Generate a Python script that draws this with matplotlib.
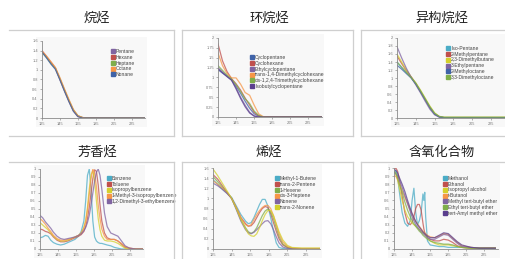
import matplotlib
matplotlib.use('Agg')
import matplotlib.pyplot as plt
from matplotlib.lines import Line2D
from matplotlib.patches import Rectangle

plt.rcParams['font.family'] = ['Liberation Sans', 'DejaVu Sans']

# ---- data ----
x_ticks = [125, 145, 165, 185, 205, 225]

wl_a = [125, 130, 135, 140, 145, 150, 155, 160, 165, 170, 175, 185, 200, 220, 240]

alkane_names = ['Pentane', 'Hexane', 'Heptane', 'Octane', 'Nonane']
pentane = [1.38, 1.26, 1.14, 1.02, 0.81, 0.58, 0.36, 0.16, 0.04, 0.01, 0, 0, 0, 0, 0]
hexane = [1.40, 1.28, 1.16, 1.04, 0.80, 0.57, 0.35, 0.15, 0.03, 0.01, 0, 0, 0, 0, 0]
heptane = [1.36, 1.26, 1.13, 1.03, 0.82, 0.59, 0.37, 0.17, 0.05, 0.01, 0, 0, 0, 0, 0]
octane = [1.39, 1.29, 1.17, 1.05, 0.84, 0.61, 0.39, 0.18, 0.05, 0.01, 0, 0, 0, 0, 0]
nonane = [1.37, 1.25, 1.12, 1.01, 0.79, 0.56, 0.34, 0.14, 0.03, 0.0, 0, 0, 0, 0, 0]
alkane_yticks = [0, 0.2, 0.4, 0.6, 0.8, 1, 1.2, 1.4, 1.6]

cyclo_names = ['Cyclopentane', 'Cyclohexane', 'Ethylcyclopentane',
               'trans-1,4-Dimethylcyclohexane', 'cis-1,2,4-Trimethylcyclohexane',
               'Isobutylcyclopentane']
cyclopentane = [1.20, 1.11, 1.03, 0.94, 0.78, 0.60, 0.40, 0.22, 0.08, 0.02, 0, 0, 0, 0, 0]
cyclohexane = [1.85, 1.42, 1.15, 0.97, 0.84, 0.68, 0.48, 0.30, 0.12, 0.03, 0, 0, 0, 0, 0]
ethylcyclopentane = [1.25, 1.14, 1.04, 0.94, 0.74, 0.50, 0.30, 0.12, 0.03, 0, 0, 0, 0, 0, 0]
dmch = [1.62, 1.30, 1.10, 0.99, 0.99, 0.83, 0.62, 0.55, 0.30, 0.08, 0.01, 0, 0, 0, 0]
tmch = [1.30, 1.18, 1.06, 0.96, 0.82, 0.65, 0.46, 0.34, 0.15, 0.04, 0, 0, 0, 0, 0]
isobutylcp = [1.22, 1.12, 1.02, 0.93, 0.71, 0.47, 0.26, 0.10, 0.02, 0, 0, 0, 0, 0, 0]
cyclo_yticks = [0, 0.25, 0.5, 0.75, 1, 1.25, 1.5, 1.75, 2]

iso_names = ['Iso-Pentane', '2-Methylpentane', '2,3-Dimethylbutane',
             '3-Ethylpentane', '2-Methyloctane', '3,3-Dimethyloctane']
isopentane = [1.40, 1.26, 1.13, 1.02, 0.86, 0.67, 0.47, 0.27, 0.11, 0.03, 0.01, 0, 0, 0, 0]
methylpentane = [1.55, 1.36, 1.18, 1.03, 0.86, 0.66, 0.46, 0.26, 0.10, 0.03, 0.01, 0.01, 0.01, 0.01, 0.01]
dimethylbutane = [1.60, 1.40, 1.20, 1.03, 0.88, 0.70, 0.50, 0.30, 0.13, 0.04, 0.02, 0.02, 0.02, 0.02, 0.02]
ethylpentane = [1.78, 1.50, 1.24, 1.02, 0.83, 0.63, 0.42, 0.22, 0.08, 0.02, 0.01, 0.01, 0.01, 0.01, 0.01]
methyloctane = [1.32, 1.22, 1.11, 1.00, 0.85, 0.66, 0.46, 0.26, 0.10, 0.03, 0.01, 0.01, 0.01, 0.01, 0.01]
dimethyloctane = [1.40, 1.27, 1.14, 1.01, 0.87, 0.68, 0.48, 0.28, 0.12, 0.04, 0.02, 0.02, 0.02, 0.02, 0.02]
iso_yticks = [0, 0.2, 0.4, 0.6, 0.8, 1, 1.2, 1.4, 1.6, 1.8, 2]

wl_b = [125, 128, 131, 134, 137, 140, 144, 148, 152, 156, 160, 164, 168, 171, 174, 176, 178,
        180, 182, 184, 186, 188, 190, 192, 194, 197, 200, 204, 208, 212, 216, 220, 225, 232, 240]
arom_names = ['Benzene', 'Toluene', 'Isopropylbenzene',
              '1-Methyl-3-isopropylbenzene', '1,2-Dimethyl-3-ethylbenzene']
benzene = [0.14, 0.15, 0.17, 0.16, 0.11, 0.08, 0.06, 0.05, 0.06, 0.08, 0.10, 0.12, 0.16, 0.22,
           0.35, 0.60, 0.92, 1.00, 0.75, 0.35, 0.15, 0.10, 0.08, 0.07, 0.07, 0.06, 0.05, 0.04,
           0.02, 0.01, 0, 0, 0, 0, 0]
toluene = [0.25, 0.24, 0.22, 0.21, 0.19, 0.15, 0.11, 0.09, 0.09, 0.10, 0.12, 0.14, 0.16, 0.18,
           0.22, 0.28, 0.38, 0.52, 0.70, 0.88, 0.99, 0.97, 0.80, 0.55, 0.35, 0.20, 0.14, 0.12,
           0.12, 0.10, 0.06, 0.02, 0.01, 0, 0]
isopropylbenzene = [0.33, 0.30, 0.27, 0.24, 0.20, 0.16, 0.12, 0.10, 0.10, 0.11, 0.13, 0.15,
                    0.17, 0.20, 0.27, 0.36, 0.52, 0.75, 0.93, 0.98, 0.85, 0.60, 0.38, 0.24,
                    0.16, 0.11, 0.10, 0.10, 0.09, 0.07, 0.04, 0.01, 0, 0, 0]
methylisopropylbenzene = [0.38, 0.35, 0.31, 0.26, 0.22, 0.17, 0.13, 0.11, 0.11, 0.12, 0.13,
                          0.15, 0.17, 0.20, 0.26, 0.34, 0.48, 0.68, 0.88, 1.00, 0.95, 0.78,
                          0.55, 0.38, 0.25, 0.16, 0.12, 0.12, 0.12, 0.10, 0.07, 0.03, 0.01, 0, 0]
dimethylethylbenzene = [0.42, 0.39, 0.34, 0.30, 0.26, 0.21, 0.16, 0.13, 0.12, 0.13, 0.14,
                        0.15, 0.17, 0.19, 0.23, 0.27, 0.33, 0.42, 0.55, 0.70, 0.85, 0.96,
                        1.00, 0.92, 0.75, 0.45, 0.28, 0.20, 0.18, 0.16, 0.10, 0.04, 0.01, 0, 0]
arom_yticks = [0, 0.1, 0.2, 0.3, 0.4, 0.5, 0.6, 0.7, 0.8, 0.9, 1]

wl_c = [125, 130, 135, 140, 145, 150, 155, 160, 163, 166, 169, 172, 175, 178, 181, 184, 187,
        190, 193, 196, 200, 205, 210, 220, 240]
olef_names = ['Methyl-1-Butene', 'trans-2-Pentene', '1-Hexene', 'cis-3-Heptene',
              'Nonene', 'trans-2-Nonene']
methylbutene = [1.37, 1.28, 1.18, 1.10, 1.02, 0.85, 0.68, 0.55, 0.50, 0.52, 0.62, 0.75, 0.88,
                0.98, 0.98, 0.85, 0.62, 0.35, 0.12, 0.03, 0.01, 0, 0, 0, 0]
pentene = [1.47, 1.38, 1.25, 1.12, 1.00, 0.82, 0.62, 0.50, 0.45, 0.46, 0.52, 0.62, 0.72, 0.80,
           0.84, 0.82, 0.70, 0.52, 0.35, 0.20, 0.08, 0.03, 0.01, 0, 0]
hexene = [1.43, 1.33, 1.22, 1.12, 1.00, 0.80, 0.58, 0.42, 0.34, 0.31, 0.34, 0.42, 0.54, 0.66,
          0.75, 0.79, 0.74, 0.60, 0.42, 0.25, 0.10, 0.03, 0.01, 0, 0]
heptene = [1.35, 1.28, 1.20, 1.11, 1.00, 0.82, 0.62, 0.48, 0.45, 0.48, 0.58, 0.68, 0.76, 0.82,
           0.86, 0.86, 0.80, 0.66, 0.48, 0.30, 0.14, 0.05, 0.02, 0.01, 0.01]
nonene = [1.30, 1.25, 1.18, 1.10, 1.00, 0.78, 0.55, 0.38, 0.32, 0.30, 0.33, 0.38, 0.44, 0.50,
          0.55, 0.56, 0.50, 0.38, 0.24, 0.12, 0.04, 0.01, 0, 0, 0]
tnonene = [1.58, 1.45, 1.30, 1.15, 1.00, 0.80, 0.58, 0.40, 0.30, 0.26, 0.25, 0.30, 0.42, 0.56,
           0.68, 0.76, 0.76, 0.66, 0.50, 0.34, 0.18, 0.07, 0.03, 0.02, 0.02]
olef_yticks = [0, 0.2, 0.4, 0.6, 0.8, 1, 1.2, 1.4, 1.6]

wl_d = [125, 127, 129, 131, 134, 137, 140, 143, 145, 147, 149, 151, 153, 155, 157, 158, 159,
        160, 162, 165, 170, 175, 180, 185, 190, 195, 200, 210, 220, 237]
oxy_names = ['Methanol', 'Ethanol', 'Isopropyl alcohol', 't-Butanol',
             'Methyl tert-butyl ether', 'Ethyl tert-butyl ether', 'tert-Amyl methyl ether']
methanol = [0.93, 0.97, 0.90, 0.70, 0.45, 0.32, 0.28, 0.35, 0.60, 0.75, 0.45, 0.30, 0.35, 0.45,
            0.68, 0.60, 0.70, 0.40, 0.10, 0.05, 0.04, 0.03, 0.03, 0.02, 0.02, 0.02, 0.02, 0.01,
            0.01, 0.01]
ethanol = [0.98, 1.00, 0.96, 0.85, 0.65, 0.45, 0.32, 0.30, 0.33, 0.40, 0.50, 0.55, 0.55, 0.48,
           0.32, 0.25, 0.20, 0.17, 0.14, 0.12, 0.10, 0.10, 0.12, 0.11, 0.08, 0.04, 0.02, 0.01,
           0.01, 0.01]
isopropanol = [0.95, 0.92, 0.85, 0.75, 0.60, 0.48, 0.40, 0.35, 0.32, 0.30, 0.28, 0.26, 0.24,
               0.22, 0.20, 0.19, 0.18, 0.17, 0.14, 0.10, 0.07, 0.05, 0.05, 0.05, 0.04, 0.03,
               0.02, 0.01, 0.01, 0.01]
tbutanol = [0.90, 0.90, 0.86, 0.80, 0.72, 0.64, 0.56, 0.48, 0.43, 0.38, 0.34, 0.31, 0.28, 0.25,
            0.22, 0.21, 0.20, 0.19, 0.17, 0.15, 0.14, 0.16, 0.19, 0.18, 0.13, 0.08, 0.04, 0.02,
            0.01, 0.01]
mtbe = [0.95, 0.93, 0.90, 0.85, 0.76, 0.66, 0.56, 0.46, 0.40, 0.35, 0.30, 0.27, 0.24, 0.21,
        0.19, 0.18, 0.17, 0.16, 0.14, 0.12, 0.12, 0.15, 0.18, 0.17, 0.12, 0.07, 0.03, 0.02,
        0.01, 0.01]
etbe = [0.96, 0.94, 0.88, 0.80, 0.70, 0.58, 0.48, 0.40, 0.35, 0.31, 0.28, 0.25, 0.22, 0.20,
        0.17, 0.16, 0.15, 0.14, 0.12, 0.10, 0.08, 0.07, 0.06, 0.06, 0.05, 0.03, 0.02, 0.01,
        0.01, 0.01]
tame = [0.98, 0.97, 0.94, 0.88, 0.80, 0.71, 0.60, 0.50, 0.44, 0.39, 0.34, 0.30, 0.27, 0.24,
        0.21, 0.20, 0.19, 0.18, 0.16, 0.14, 0.14, 0.17, 0.20, 0.19, 0.14, 0.09, 0.05, 0.02,
        0.01, 0.01]
oxy_yticks = [0, 0.1, 0.2, 0.3, 0.4, 0.5, 0.6, 0.7, 0.8, 0.9, 1]

# colours
LBLUE, RED, GREEN, ORANGE = '#4bacc6', '#c0504d', '#7fae4a', '#f79646'
PURPLE, YELLOW, DBLUE, DPURPLE = '#8064a2', '#d4d02c', '#3f63a8', '#5a3e8e'

W, H = 505, 259
fig = plt.figure(figsize=(W / 100, H / 100), dpi=100)


def fig_line(x0, y0, x1, y1):
    fig.add_artist(Line2D([x0 / W, x1 / W], [1 - y0 / H, 1 - y1 / H],
                          color='#cfcfcf', lw=0.9, transform=fig.transFigure))


def box(x0, y0, x1, y1, left=True):
    fig_line(x0, y0, x1, y0)
    fig_line(x1, y0, x1, y1)
    fig_line(x0, y1, x1, y1)
    if left:
        fig_line(x0, y0, x0, y1)


panels = [
    ('烷烃', (97, 18), (9, 30, 174, 136, False), (42, 41, 145, 118), wl_a,
     [pentane, hexane, heptane, octane, nonane], alkane_names,
     [PURPLE, RED, GREEN, ORANGE, DBLUE], alkane_yticks, (112, 49)),
    ('环烷烃', (269, 18), (182, 30, 353, 136, True), (218, 38, 322, 117), wl_a,
     [cyclopentane, cyclohexane, ethylcyclopentane, dmch, tmch, isobutylcp], cyclo_names,
     [DBLUE, RED, PURPLE, ORANGE, GREEN, DPURPLE], cyclo_yticks, (251, 55)),
    ('异构烷烃', (442, 18), (361, 30, 508, 136, True), (397, 38, 505, 118), wl_a,
     [isopentane, methylpentane, dimethylbutane, ethylpentane, methyloctane, dimethyloctane],
     iso_names, [LBLUE, RED, YELLOW, PURPLE, DBLUE, GREEN], iso_yticks, (447, 46)),
    ('芳香烃', (97, 152), (9, 162, 174, 262, False), (40, 169, 143, 249), wl_b,
     [benzene, toluene, isopropylbenzene, methylisopropylbenzene, dimethylethylbenzene],
     arom_names, [LBLUE, RED, YELLOW, ORANGE, PURPLE], arom_yticks, (108, 176)),
    ('烯烃', (269, 152), (182, 162, 353, 262, True), (213, 168, 320, 249), wl_c,
     [methylbutene, pentene, hexene, heptene, nonene, tnonene], olef_names,
     [LBLUE, RED, GREEN, ORANGE, PURPLE, YELLOW], olef_yticks, (276, 176)),
    ('含氧化合物', (442, 152), (361, 162, 508, 262, True), (394, 168, 498, 249), wl_d,
     [methanol, ethanol, isopropanol, tbutanol, mtbe, etbe, tame], oxy_names,
     [LBLUE, RED, YELLOW, ORANGE, PURPLE, GREEN, DPURPLE], oxy_yticks, (444, 176)),
]

for title, (tx, ty), bx, (ax0, ay0, ax1, ay1), wl, series, names, colors, yticks, (lx, ly) in panels:
    fig.text(tx / W, 1 - ty / H, title, ha='center', va='center', fontsize=9.5,
             family=['Noto Sans CJK SC', 'DejaVu Sans'], color='#222222')
    box(*bx[:4], left=bx[4])
    # faint background of the pasted chart picture
    fig.add_artist(Rectangle(((ax0 - 6) / W, 1 - (ay1 + 9) / H), (ax1 - ax0 + 8) / W,
                             (ay1 - ay0 + 13) / H, transform=fig.transFigure,
                             facecolor='#f8f8f8', edgecolor='none', zorder=0))
    ax = fig.add_axes([ax0 / W, 1 - ay1 / H, (ax1 - ax0) / W, (ay1 - ay0) / H])
    ax.set_facecolor('none')
    for vals, c in zip(series, colors):
        ax.plot(wl, vals, color=c, lw=0.9, alpha=0.75)
    ax.set_xlim(125, 240)
    ax.set_ylim(0, yticks[-1])
    ax.set_xticks(x_ticks)
    ax.set_yticks(yticks)
    ax.set_yticklabels([f'{v:g}' for v in yticks])
    for s in ['top', 'right']:
        ax.spines[s].set_visible(False)
    for s in ['left', 'bottom']:
        ax.spines[s].set_color('#8a8a8a')
        ax.spines[s].set_linewidth(0.6)
    ax.tick_params(labelsize=2.8, colors='#777777', length=1.5, width=0.4, pad=1.5)
    handles = [Line2D([], [], marker='s', linestyle='', color=c, markersize=2.3) for c in colors]
    ax.legend(handles, names, loc='upper left', bbox_to_anchor=(lx / W, 1 - ly / H),
              bbox_transform=fig.transFigure, frameon=False, fontsize=3.6,
              handlelength=0.5, handletextpad=0.3, labelspacing=0.15,
              borderpad=0, borderaxespad=0, labelcolor='#444444')

fig.savefig('out.png', dpi=100)
